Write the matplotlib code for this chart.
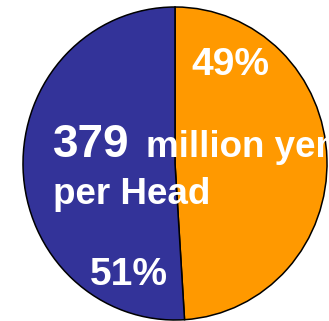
import matplotlib
matplotlib.use("Agg")
import matplotlib.pyplot as plt

categories = ["Orange share", "Blue share"]
shares = [49, 51]
colors = ["#FF9900", "#333399"]
title_value = "379"
title_unit = "million yen"
title_line2 = "per Head"

W, H = 329, 321
R = 152.0
K = R / 156.5  # vertical squeeze (pie slightly taller than wide)

fig = plt.figure(figsize=(W / 100, H / 100), dpi=100)
ax = fig.add_axes([0, 0, 1, 1])


def py(ypix):
    return (H - ypix) * K


ax.pie(shares, colors=colors, startangle=90, counterclock=False,
       center=(175, py(163.5)), radius=R,
       wedgeprops=dict(edgecolor="black", linewidth=1.1))
ax.set_xlim(0, W)
ax.set_ylim(0, H * K)
ax.set_aspect("auto")
ax.axis("off")

font = dict(family="Liberation Sans", weight="bold", color="white")
ax.text(230, py(65), f"{shares[0]}%", fontsize=28, ha="center", va="center", **font)
ax.text(129, py(275), f"{shares[1]}%", fontsize=28, ha="center", va="center", **font)
ax.text(53, py(157), title_value, fontsize=33, ha="left", va="baseline", **font)
ax.text(146, py(157), title_unit, fontsize=26.5, ha="left", va="baseline", **font)
ax.text(53, py(204), title_line2, fontsize=26.5, ha="left", va="baseline", **font)

fig.savefig("out.png", dpi=100)
